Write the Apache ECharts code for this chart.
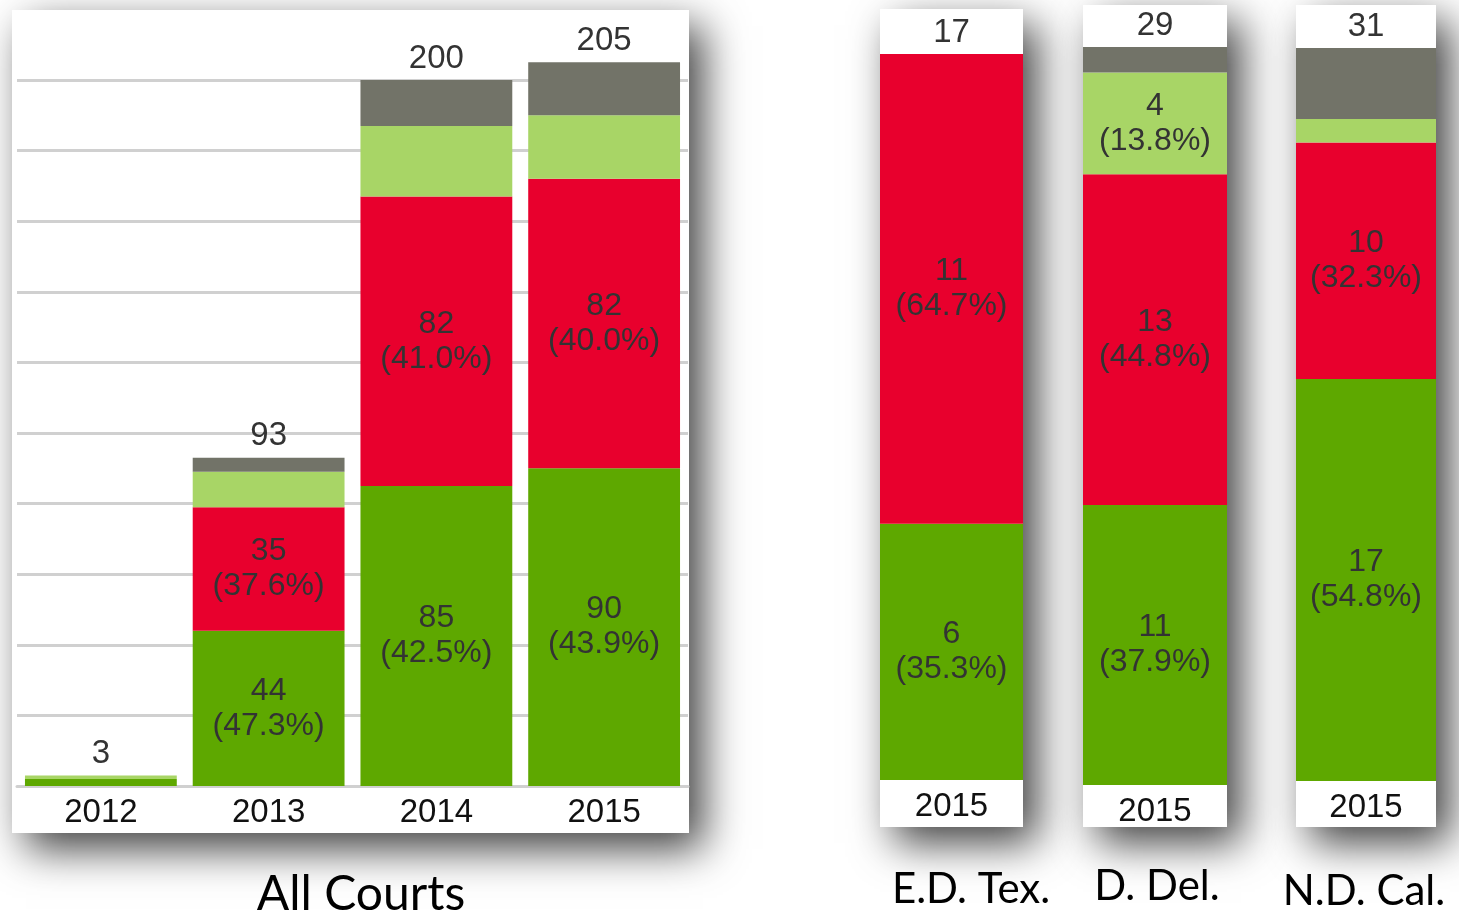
<!DOCTYPE html>
<html>
<head>
<meta charset="utf-8">
<script src="https://cdn.jsdelivr.net/npm/echarts@6/dist/echarts.min.js"></script>
<style>
  html, body { margin: 0; padding: 0; background: #fff; }
  #chart { width: 1459px; height: 917px; }
</style>
</head>
<body>
<div id="chart"></div>
<script>
// All Courts, per year
var years = ['2012', '2013', '2014', '2015'];
var allGreen = [2, 44, 85, 90];
var allRed = [0, 35, 82, 82];
var allLight = [1, 10, 20, 18];
var allGray = [0, 4, 13, 15];
var allTicks = [0, 200, 20]; // min, max, interval

// single courts, 2015
var courts = ['E.D. Tex.', 'D. Del.', 'N.D. Cal.'];
var courtYear = ['2015'];
var courtGreen = [6, 11, 17];
var courtRed = [11, 13, 10];
var courtLight = [0, 4, 1];
var courtGray = [0, 1, 3];

var colors = { green: '#5ea800', red: '#e8002d', light: '#a8d566', gray: '#727368' };
var font = '"Liberation Sans", Arial, sans-serif';
var panelShadow = { shadowBlur: 40, shadowOffsetX: 14, shadowOffsetY: 16, shadowColor: 'rgba(0,0,0,0.75)' };

// plot areas: [left, top, width, height]
var grids = [
  [17, 80, 671, 706],
  [880, 54, 143, 726],
  [1083, 47, 144, 738],
  [1296, 48, 140, 733]
];
// white panels behind each chart
var panels = [
  [12, 10, 677, 823],
  [880, 9, 143, 818],
  [1083, 5, 144, 822],
  [1296, 5, 140, 822]
];

function sumAt(lists, i) {
  var s = 0;
  lists.forEach(function (l) { s += l[i]; });
  return s;
}

// label text: value + share of the bar, only for big enough pieces
function pieceData(values, totals) {
  return values.map(function (v, i) {
    var share = v / totals[i];
    return {
      value: v,
      label: { show: v >= 3 && share >= 0.12 }
    };
  });
}

var option = {
  backgroundColor: '#fff',
  animation: false,
  grid: [],
  xAxis: [],
  yAxis: [],
  series: [],
  graphic: []
};

function addPanel(idx, cats, green, red, light, gray, yMax, showGrid) {
  var totals = cats.map(function (c, i) { return sumAt([green, red, light, gray], i); });
  var g = grids[idx];
  option.grid.push({ left: g[0], top: g[1], width: g[2], height: g[3] });
  option.xAxis.push({
    type: 'category', gridIndex: idx, data: cats,
    axisLine: { show: showGrid, lineStyle: { color: '#d0d0d0', width: 3 } },
    axisTick: { show: false },
    axisLabel: { fontFamily: font, fontSize: 33, color: '#111', margin: 10 }
  });
  option.yAxis.push({
    type: 'value', gridIndex: idx, min: 0, max: yMax,
    interval: showGrid ? allTicks[2] : yMax,
    axisLabel: { show: false }, axisLine: { show: false }, axisTick: { show: false },
    splitLine: { show: showGrid, lineStyle: { color: '#d0d0d0', width: 3 } }
  });
  var stackName = 'stack' + idx;
  var pieces = [[green, colors.green], [red, colors.red], [light, colors.light], [gray, colors.gray]];
  pieces.forEach(function (p) {
    option.series.push({
      type: 'bar', xAxisIndex: idx, yAxisIndex: idx, stack: stackName,
      barCategoryGap: showGrid ? '9.5%' : '0%',
      clip: false,
      itemStyle: { color: p[1] },
      label: {
        position: 'inside', fontFamily: font, fontSize: 32, lineHeight: 35, color: '#333',
        formatter: function (prm) {
          return prm.value + '\n(' + (prm.value / totals[prm.dataIndex] * 100).toFixed(1) + '%)';
        }
      },
      data: pieceData(p[0], totals)
    });
  });
  // totals on top
  option.series.push({
    type: 'bar', xAxisIndex: idx, yAxisIndex: idx, stack: stackName,
    clip: false,
    itemStyle: { color: 'transparent' },
    label: {
      show: true, position: 'top', distance: 5, fontFamily: font, fontSize: 33, color: '#333',
      formatter: function (prm) { return totals[prm.dataIndex]; }
    },
    data: cats.map(function () { return 0; })
  });
  var pn = panels[idx];
  option.graphic.push({
    type: 'rect', z: -10, silent: true,
    shape: { x: pn[0], y: pn[1], width: pn[2], height: pn[3] },
    style: Object.assign({ fill: '#fff' }, panelShadow)
  });
}

addPanel(0, years, allGreen, allRed, allLight, allGray, allTicks[1], true);
courts.forEach(function (c, i) {
  var total = courtGreen[i] + courtRed[i] + courtLight[i] + courtGray[i];
  addPanel(i + 1, courtYear, [courtGreen[i]], [courtRed[i]], [courtLight[i]], [courtGray[i]], total, false);
});

// captions under the panels
var captions = [['All Courts', 361, 895, 48], [courts[0], 971, 889, 42], [courts[1], 1157, 886, 42], [courts[2], 1364, 891, 42]];
captions.forEach(function (c) {
  option.graphic.push({
    type: 'text', z: 10, x: c[1], y: c[2],
    style: { text: c[0], fill: '#000', font: c[3] + 'px Lato, "Noto Sans", sans-serif', textAlign: 'center', textVerticalAlign: 'middle' }
  });
});

var chart = echarts.init(document.getElementById('chart'));
chart.setOption(option);
</script>
</body>
</html>
